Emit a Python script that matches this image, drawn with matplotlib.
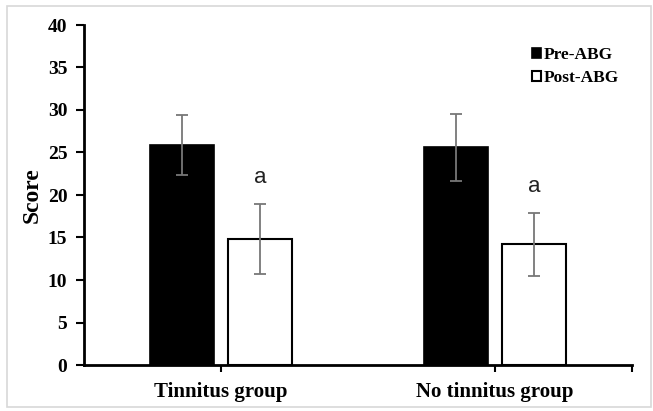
import matplotlib
matplotlib.use("Agg")
import matplotlib.pyplot as plt
import numpy as np
from matplotlib.patches import Rectangle

categories = ["Tinnitus group", "No tinnitus group"]
pre_values = [25.9, 25.6]
pre_errors = [3.5, 3.9]
post_values = [14.8, 14.2]
post_errors = [4.1, 3.7]
series_labels = ["Pre-ABG", "Post-ABG"]
sig_labels = ["a", "a"]
yticks = [0, 5, 10, 15, 20, 25, 30, 35, 40]

fig = plt.figure(figsize=(6.53, 4.11), dpi=100)
ax = fig.add_axes([84/653, 1 - 365/411, 548/653, 340/411])

x = np.arange(len(categories))
w = 0.232
off = 0.142
ax.bar(x - off, pre_values, w, color="black", edgecolor="black", linewidth=1.2,
       label=series_labels[0], zorder=2)
ax.bar(x + off, post_values, w, color="white", edgecolor="black", linewidth=1.5,
       label=series_labels[1], zorder=2)
ax.errorbar(x - off, pre_values, yerr=pre_errors, fmt="none", ecolor="#777777",
            elinewidth=1.3, capsize=4, capthick=1.3, zorder=3)
ax.errorbar(x + off, post_values, yerr=post_errors, fmt="none", ecolor="#777777",
            elinewidth=1.3, capsize=4, capthick=1.3, zorder=3)

for xi, v, e, s in zip(x + off, post_values, post_errors, sig_labels):
    ax.text(xi, v + e + 2.5, s, ha="center", va="baseline", fontsize=16,
            family="Liberation Sans", color="#222222")

ax.set_xlim(-0.5, 1.5)
ax.set_ylim(0, 40)
ax.set_yticks(yticks)
ax.set_xticks([0, 1, 1.5])
ax.set_xticklabels([categories[0], categories[1], ""])
ax.spines["top"].set_visible(False)
ax.spines["right"].set_visible(False)
ax.spines["left"].set_linewidth(2)
ax.spines["bottom"].set_linewidth(2)
ax.tick_params(axis="y", direction="out", length=6, width=1.5, pad=6)
ax.tick_params(axis="x", direction="out", length=5, width=1.5, pad=7)
for lab in ax.get_yticklabels():
    lab.set_family("Liberation Serif")
    lab.set_fontweight("bold")
    lab.set_fontsize(14)
for lab in ax.get_xticklabels():
    lab.set_family("Liberation Serif")
    lab.set_fontweight("bold")
    lab.set_fontsize(15)
ax.set_ylabel("Score", family="Liberation Serif", fontweight="bold", fontsize=17)
ax.yaxis.set_label_coords(-0.076, 0.5)

leg = ax.legend(loc="upper left", bbox_to_anchor=(0.804, 0.955), frameon=False,
                prop={"family": "Liberation Serif", "weight": "bold", "size": 12.5},
                handlelength=0.55, handleheight=0.55, handletextpad=0.15,
                labelspacing=0.4, borderaxespad=0)

fig.patches.append(Rectangle((7/653, 4/411), 644/653, 401/411, transform=fig.transFigure,
                             fill=False, edgecolor="#d8d8d8", linewidth=1.2))

fig.savefig("out.png", dpi=100)
